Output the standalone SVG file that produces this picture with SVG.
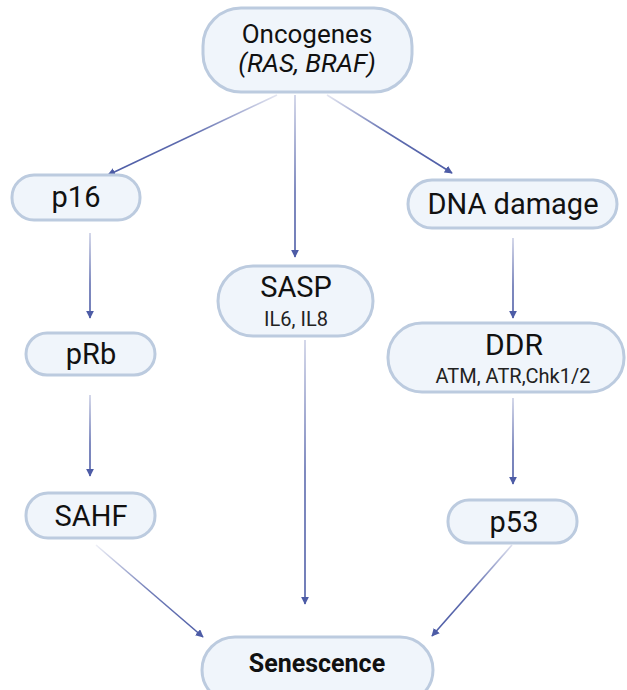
<svg xmlns="http://www.w3.org/2000/svg" width="627" height="690" viewBox="0 0 627 690">
<style>
.node rect{fill:#f0f5fb;stroke:#bccbdf;stroke-width:3}
text{font-family:Roboto,"Liberation Sans",sans-serif;fill:#111;text-anchor:middle}
.big{font-size:29px}
.small{font-size:20px;fill:#222}
.edge{fill:none;stroke-width:1.6}
</style>
<defs>
<marker id="ah" viewBox="0 0 10 10" refX="9" refY="5" markerWidth="8" markerHeight="8" markerUnits="userSpaceOnUse" orient="auto">
<path d="M0,0 L10,5 L0,10 z" fill="#4d5ca6"/>
</marker>
<linearGradient id="g1" gradientUnits="userSpaceOnUse" x1="277" y1="95" x2="108" y2="175"><stop offset="0" stop-color="#4d5ca6" stop-opacity="0.15"/><stop offset="0.5" stop-color="#4d5ca6" stop-opacity="0.9"/><stop offset="1" stop-color="#4d5ca6"/></linearGradient>
<linearGradient id="g2" gradientUnits="userSpaceOnUse" x1="295" y1="95" x2="295" y2="257"><stop offset="0" stop-color="#4d5ca6" stop-opacity="0.3"/><stop offset="0.6" stop-color="#4d5ca6" stop-opacity="0.9"/><stop offset="1" stop-color="#4d5ca6"/></linearGradient>
<linearGradient id="g3" gradientUnits="userSpaceOnUse" x1="327" y1="95" x2="452" y2="173"><stop offset="0" stop-color="#4d5ca6" stop-opacity="0.15"/><stop offset="0.5" stop-color="#4d5ca6" stop-opacity="0.9"/><stop offset="1" stop-color="#4d5ca6"/></linearGradient>
<linearGradient id="g4" gradientUnits="userSpaceOnUse" x1="0" y1="233" x2="0" y2="318"><stop offset="0" stop-color="#4d5ca6" stop-opacity="0.3"/><stop offset="0.6" stop-color="#4d5ca6" stop-opacity="0.9"/><stop offset="1" stop-color="#4d5ca6"/></linearGradient>
<linearGradient id="g5" gradientUnits="userSpaceOnUse" x1="0" y1="395" x2="0" y2="476"><stop offset="0" stop-color="#4d5ca6" stop-opacity="0.3"/><stop offset="0.6" stop-color="#4d5ca6" stop-opacity="0.9"/><stop offset="1" stop-color="#4d5ca6"/></linearGradient>
<linearGradient id="g6" gradientUnits="userSpaceOnUse" x1="0" y1="340" x2="0" y2="604"><stop offset="0" stop-color="#4d5ca6" stop-opacity="0.3"/><stop offset="0.5" stop-color="#4d5ca6" stop-opacity="0.9"/><stop offset="1" stop-color="#4d5ca6"/></linearGradient>
<linearGradient id="g7" gradientUnits="userSpaceOnUse" x1="0" y1="238" x2="0" y2="318"><stop offset="0" stop-color="#4d5ca6" stop-opacity="0.3"/><stop offset="0.6" stop-color="#4d5ca6" stop-opacity="0.9"/><stop offset="1" stop-color="#4d5ca6"/></linearGradient>
<linearGradient id="g8" gradientUnits="userSpaceOnUse" x1="0" y1="398" x2="0" y2="484"><stop offset="0" stop-color="#4d5ca6" stop-opacity="0.3"/><stop offset="0.6" stop-color="#4d5ca6" stop-opacity="0.9"/><stop offset="1" stop-color="#4d5ca6"/></linearGradient>
<linearGradient id="g9" gradientUnits="userSpaceOnUse" x1="96" y1="545" x2="203" y2="637"><stop offset="0" stop-color="#4d5ca6" stop-opacity="0.1"/><stop offset="0.5" stop-color="#4d5ca6" stop-opacity="0.8"/><stop offset="1" stop-color="#4d5ca6"/></linearGradient>
<linearGradient id="g10" gradientUnits="userSpaceOnUse" x1="512" y1="545" x2="432" y2="636"><stop offset="0" stop-color="#4d5ca6" stop-opacity="0.2"/><stop offset="0.5" stop-color="#4d5ca6" stop-opacity="0.9"/><stop offset="1" stop-color="#4d5ca6"/></linearGradient>
</defs>
<g id="connectors">
<line class="edge" x1="277" y1="95" x2="108" y2="175" stroke="url(#g1)" marker-end="url(#ah)"/>
<line class="edge" x1="295" y1="95" x2="295" y2="257" stroke="url(#g2)" marker-end="url(#ah)"/>
<line class="edge" x1="327" y1="95" x2="452" y2="173" stroke="url(#g3)" marker-end="url(#ah)"/>
<line class="edge" x1="90" y1="233" x2="90" y2="318" stroke="url(#g4)" marker-end="url(#ah)"/>
<line class="edge" x1="90" y1="395" x2="90" y2="476" stroke="url(#g5)" marker-end="url(#ah)"/>
<line class="edge" x1="305" y1="340" x2="305" y2="604" stroke="url(#g6)" marker-end="url(#ah)"/>
<line class="edge" x1="513" y1="238" x2="513" y2="318" stroke="url(#g7)" marker-end="url(#ah)"/>
<line class="edge" x1="513" y1="398" x2="513" y2="484" stroke="url(#g8)" marker-end="url(#ah)"/>
<line class="edge" x1="96" y1="545" x2="203" y2="637" stroke="url(#g9)" marker-end="url(#ah)"/>
<line class="edge" x1="512" y1="545" x2="432" y2="636" stroke="url(#g10)" marker-end="url(#ah)"/>
</g>
<g id="oncogenes" class="node">
<rect x="203" y="8" width="209" height="84" rx="38"/>
<text x="307" y="43" font-size="26">Oncogenes</text>
<text x="307" y="72" font-size="26" font-style="italic">(RAS, BRAF)</text>
</g>
<g id="p16" class="node">
<rect x="12" y="175" width="128" height="45" rx="22"/>
<text class="big" x="76" y="207">p16</text>
</g>
<g id="dna-damage" class="node">
<rect x="408" y="180" width="209" height="48" rx="24"/>
<text class="big" x="513" y="214">DNA damage</text>
</g>
<g id="sasp" class="node">
<rect x="218" y="266" width="155" height="70" rx="35"/>
<text class="big" x="296" y="297">SASP</text>
<text class="small" x="296" y="326">IL6, IL8</text>
</g>
<g id="ddr" class="node">
<rect x="388" y="323" width="236" height="69" rx="34"/>
<text x="514" y="355" font-size="30">DDR</text>
<text class="small" x="513" y="383">ATM, ATR,Chk1/2</text>
</g>
<g id="prb" class="node">
<rect x="26" y="333" width="129" height="42" rx="21"/>
<text class="big" x="91" y="364">pRb</text>
</g>
<g id="sahf" class="node">
<rect x="26" y="493" width="129" height="45" rx="22"/>
<text class="big" x="91" y="526">SAHF</text>
</g>
<g id="p53" class="node">
<rect x="448" y="500" width="129" height="43" rx="21"/>
<text class="big" x="514" y="532">p53</text>
</g>
<g id="senescence" class="node">
<rect x="202" y="637" width="231" height="66" rx="33"/>
<text x="317" y="672" font-size="25" font-weight="bold">Senescence</text>
</g>
</svg>
